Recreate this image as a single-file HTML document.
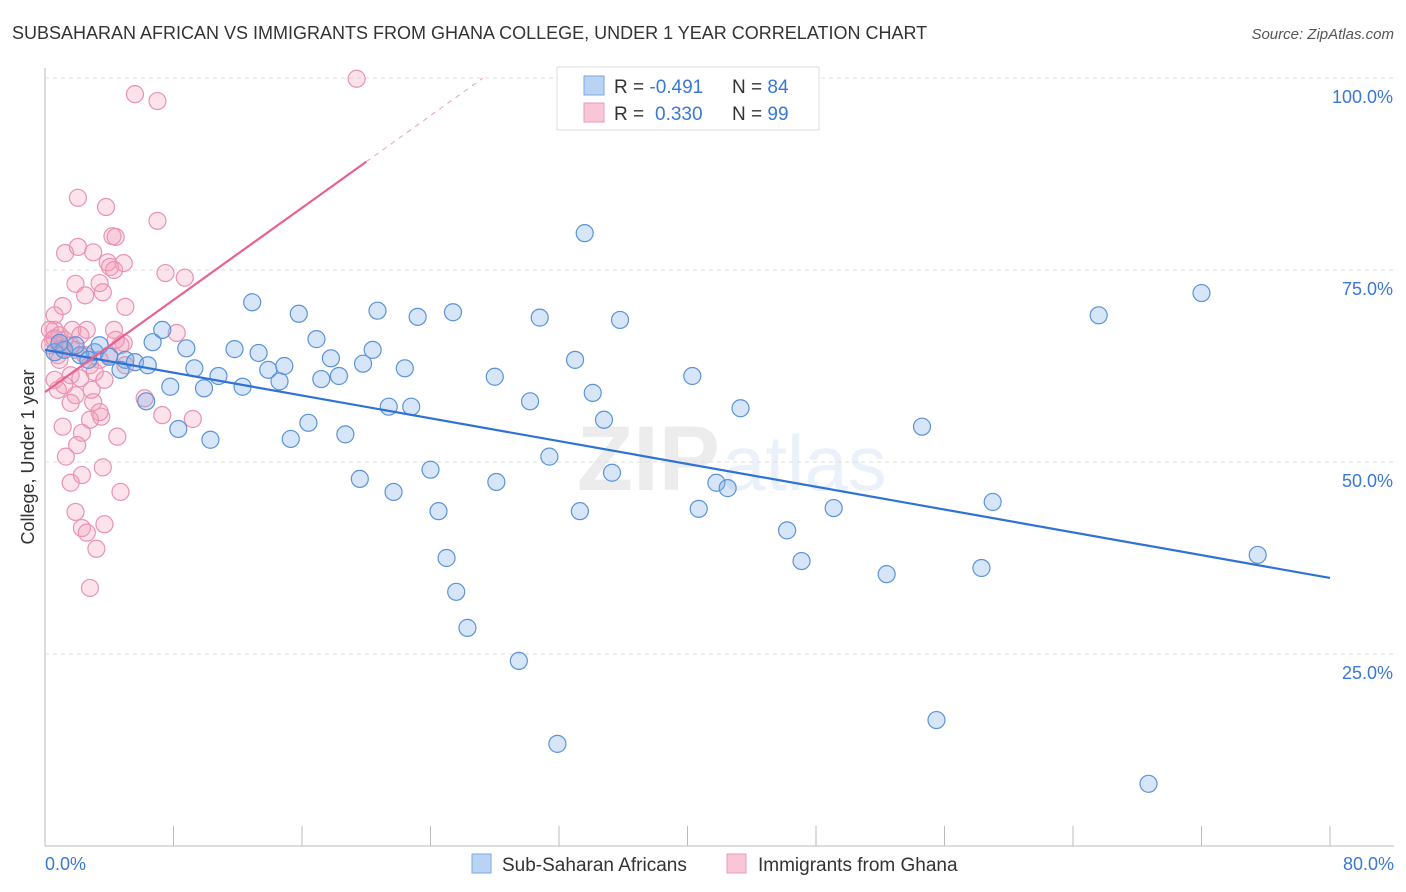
<!DOCTYPE html>
<html><head><meta charset="utf-8"><style>
body{margin:0;background:#fff;font-family:"Liberation Sans",sans-serif;}
svg{display:block}
</style></head><body>
<svg id="c" width="1406" height="892">
<text x="12" y="39" font-size="18" fill="#333">SUBSAHARAN AFRICAN VS IMMIGRANTS FROM GHANA COLLEGE, UNDER 1 YEAR CORRELATION CHART</text>
<text x="1394" y="39" font-size="15" fill="#555" font-style="italic" text-anchor="end">Source: ZipAtlas.com</text>
<text x="720" y="490" font-size="92" fill="#000" opacity="0.07" text-anchor="end" font-weight="bold">ZIP</text>
<text x="722" y="490" font-size="78" fill="#5b93d9" opacity="0.12">atlas</text>
<text transform="translate(34,457) rotate(-90)" font-size="18" fill="#333" text-anchor="middle">College, Under 1 year</text>
<g id="grid"></g><g id="marks"></g><g id="lines"></g>
<g>
<rect x="557" y="67" width="262" height="63" fill="#fff" stroke="#ddd"/>
<rect x="584" y="76" width="20" height="19" fill="#b9d3f3" stroke="#7aaae6"/>
<rect x="584" y="103" width="20" height="19" fill="#f9c6d6" stroke="#ec9ab6"/>
<text x="614" y="93" font-size="19" fill="#333">R = <tspan fill="#3a78d6">-0.491</tspan><tspan x="732">N = </tspan><tspan fill="#3a78d6">84</tspan></text>
<text x="614" y="120" font-size="19" fill="#333">R = <tspan x="655" fill="#3a78d6">0.330</tspan><tspan x="732">N = </tspan><tspan fill="#3a78d6">99</tspan></text>
</g>
<g>
<rect x="472" y="854" width="19" height="19" fill="#b9d3f3" stroke="#7aaae6"/>
<text x="502" y="871" font-size="19" fill="#333">Sub-Saharan Africans</text>
<rect x="727" y="854" width="19" height="19" fill="#f9c6d6" stroke="#ec9ab6"/>
<text x="758" y="871" font-size="19" fill="#333">Immigrants from Ghana</text>
</g>
</svg>
<script>
const xTicks=[0,8,16,24,32,40,48,56,64,72,80];
const yTicks=[25,50,75,100];
const yTickLabels=["25.0%","50.0%","75.0%","100.0%"];
const xLabels=["0.0%","80.0%"];
const blueX=[33.6,72.0,65.6,12.9,15.8,20.7,23.2,25.4,30.8,35.8,16.9,7.3,6.7,8.8,11.8,13.3,17.8,20.4,33.0,19.8,22.4,14.9,13.9,14.6,9.3,10.8,12.3,7.8,9.9,17.2,18.3,28.0,40.3,34.1,30.2,21.4,22.8,34.8,43.3,6.3,8.3,10.3,15.3,16.4,18.7,54.6,31.4,24.0,19.6,21.7,28.1,35.3,41.8,42.5,59.0,24.5,33.3,40.7,49.1,46.2,25.0,47.1,52.4,58.3,75.5,25.6,26.3,29.5,31.9,55.5,68.7,0.6,1.2,2.2,3.1,4.0,5.0,4.7,5.6,3.4,0.9,1.9,2.7,6.4];
const blueY=[79.8,72.0,69.1,70.8,69.3,69.7,68.9,69.5,68.8,68.5,66.0,67.2,65.6,64.8,64.7,64.2,63.5,64.6,63.3,62.8,62.2,62.5,62.0,60.5,62.2,61.2,59.8,59.8,59.6,60.8,61.2,61.1,61.2,59.0,57.9,57.2,57.2,55.5,57.0,57.9,54.3,52.9,53.0,55.1,53.6,54.6,50.7,49.0,47.8,46.1,47.4,48.6,47.3,46.6,44.8,43.6,43.6,43.9,44.0,41.1,37.5,37.1,35.4,36.2,37.9,33.1,28.4,24.1,13.3,16.4,8.1,64.3,64.6,63.9,64.3,63.7,63.3,62.0,63.0,65.2,65.5,65.2,63.3,62.6];
const pinkX=[2.05,3.8,7.0,4.2,4.4,1.25,2.05,3.0,3.9,4.9,4.05,4.3,7.5,8.7,1.9,3.4,2.5,3.6,5.0,1.1,0.6,2.6,4.3,8.2,4.9,0.5,6.2,7.3,9.2,3.0,1.6,1.1,2.3,3.5,4.5,2.0,1.3,3.6,2.3,1.6,4.7,1.9,2.3,2.6,3.7,3.2,2.8,5.6,7.0,19.4,0.6,0.9,1.2,0.3,1.6,1.9,2.5,2.8,3.4,4.0,4.7,0.9,1.6,0.6,1.2,2.2,3.1,3.7,5.0,4.4,0.3,0.6,1.1,0.8,1.7,2.2,0.8,1.9,2.9,3.4,2.8];
const pinkY=[84.4,83.2,81.4,79.4,79.3,77.2,78.0,77.3,76.0,75.9,75.4,75.0,74.6,74.0,73.2,73.3,71.7,72.1,70.2,70.3,69.1,67.2,67.2,66.8,65.5,65.9,58.3,56.1,55.6,57.8,57.7,54.6,53.8,55.9,53.3,52.2,50.7,49.3,48.3,47.3,46.1,43.5,41.4,40.8,41.9,38.7,33.6,97.9,97.0,99.9,67.2,66.5,65.9,65.2,65.2,64.6,63.9,62.6,63.3,63.9,65.2,63.3,61.3,60.7,60.0,60.9,61.7,60.7,62.6,65.9,67.2,66.1,64.8,63.9,67.2,66.5,59.4,58.7,59.4,56.5,55.5];
const blueTrend=[64.6,34.9];
const pinkTrend=[59.1,1.5];
const NS="http://www.w3.org/2000/svg";
const X=v=>45+v*(1285/80), Y=v=>846-v*7.68;
function mk(t,a,p){const e=document.createElementNS(NS,t);for(const k in a)e.setAttribute(k,a[k]);p.appendChild(e);return e;}
const grid=document.getElementById('grid'),marks=document.getElementById('marks'),lines=document.getElementById('lines');
let ax=mk('line',{x1:45,y1:68,x2:45,y2:846,stroke:'#bbb'},grid);

let bx=mk('line',{x1:45,y1:846,x2:1394,y2:846,stroke:'#bbb'},grid);

yTicks.forEach((t,i)=>{
 const g=mk('line',{x1:45,x2:1394,y1:Y(t),y2:Y(t),stroke:'#ddd','stroke-dasharray':'4,4'},grid);
 
 const l=mk('text',{x:1393,y:Y(t)+25,'font-size':18,fill:'#3a78d6','text-anchor':'end'},grid);
 l.textContent=yTickLabels[i];
 
});
xTicks.forEach(t=>{
 const m=mk('line',{x1:X(t),x2:X(t),y1:826,y2:846,stroke:'#bbb'},grid);
 
});
[[0,'start',45],[80,'end',1394]].forEach((d,i)=>{
 const l=mk('text',{x:d[2],y:870,'font-size':18,fill:'#3a78d6','text-anchor':d[1]},grid);
 l.textContent=xLabels[i];
 
});
pinkX.forEach((v,i)=>{
 const c=mk('circle',{cx:X(v),cy:Y(pinkY[i]),r:8.5,fill:'rgba(243,160,188,0.3)',stroke:'#ea93b1','stroke-width':1.2},marks);
 
});
blueX.forEach((v,i)=>{
 const c=mk('circle',{cx:X(v),cy:Y(blueY[i]),r:8.5,fill:'rgba(120,170,230,0.3)',stroke:'#5b93d9','stroke-width':1.2},marks);
 
});
let bl=mk('line',{x1:X(0),y1:Y(blueTrend[0]),x2:X(80),y2:Y(blueTrend[1]),stroke:'#2f72d6','stroke-width':2.2},lines);

const pY=x=>pinkTrend[0]+pinkTrend[1]*x;
let pl=mk('line',{x1:X(0),y1:Y(pY(0)),x2:X(20),y2:Y(pY(20)),stroke:'#e8628f','stroke-width':2.2},lines);

const xe=(100-pinkTrend[0])/pinkTrend[1];
let pd=mk('line',{x1:X(20),y1:Y(pY(20)),x2:X(xe),y2:Y(100),stroke:'#eaa0b8','stroke-width':1,'stroke-dasharray':'5,5'},lines);

</script>
</body></html>
